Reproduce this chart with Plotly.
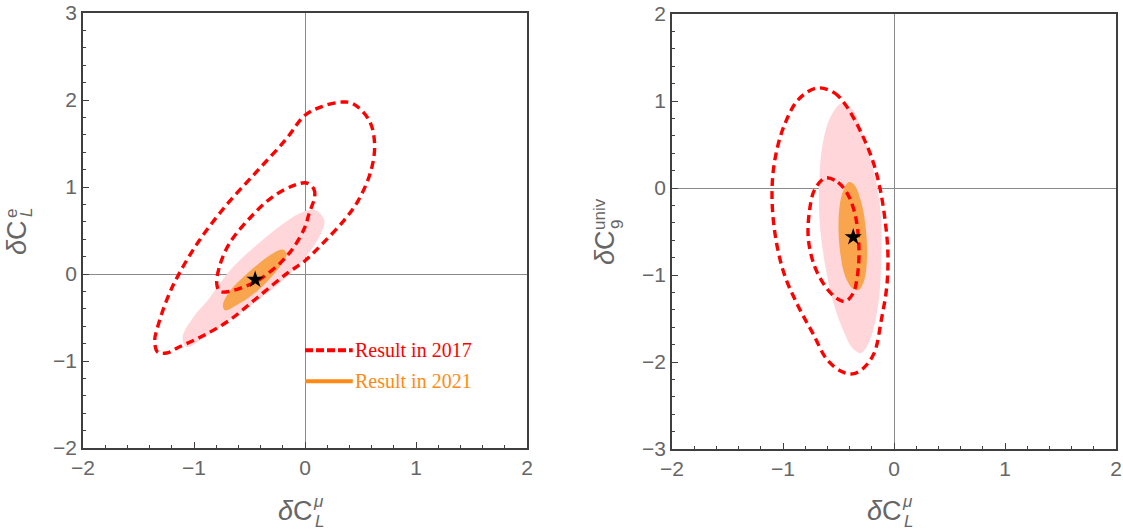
import plotly.graph_objects as go

# ---------------- Data ----------------
# Left panel: (dC_L^mu, dC_L^e)
L_2017_2s_x = [0.336, 0.433, 0.578, 0.627, 0.595, 0.481, 0.352, 0.158, 0.0, -0.165, -0.423, -0.682, -0.94, -1.134, -1.247, -1.328, -1.354, -1.33, -1.24, -1.14, -0.96, -0.71, -0.44, -0.17, 0.0, 0.158]
L_2017_2s_y = [1.977, 1.958, 1.766, 1.498, 1.19, 0.847, 0.617, 0.349, 0.153, 0.004, -0.264, -0.533, -0.724, -0.839, -0.908, -0.897, -0.762, -0.62, -0.28, -0.01, 0.37, 0.79, 1.17, 1.55, 1.824, 1.927]
L_2017_1s_x = [0.013, 0.078, 0.087, 0.036, 0.0, -0.1, -0.229, -0.423, -0.553, -0.714, -0.772, -0.795, -0.772, -0.682, -0.488, -0.294, -0.1]
L_2017_1s_y = [1.046, 0.981, 0.885, 0.693, 0.54, 0.31, 0.119, -0.073, -0.149, -0.207, -0.195, -0.111, 0.08, 0.349, 0.655, 0.885, 1.019]
L_2021_2s_x = [0.094, 0.174, 0.142, 0.029, -0.165, -0.423, -0.682, -0.94, -1.07, -1.102, -1.005, -0.876, -0.811, -0.649, -0.423, -0.197, -0.019]
L_2021_2s_y = [0.732, 0.617, 0.464, 0.234, -0.034, -0.303, -0.533, -0.762, -0.839, -0.724, -0.494, -0.303, -0.188, 0.08, 0.349, 0.579, 0.713]
L_2021_1s_x = [-0.197, -0.165, -0.229, -0.423, -0.617, -0.72, -0.74, -0.682, -0.488, -0.294]
L_2021_1s_y = [0.28, 0.234, 0.08, -0.188, -0.36, -0.418, -0.36, -0.207, 0.042, 0.234]
L_best = (-0.449, -0.065)

# Right panel: (dC_L^mu, dC_9^univ)
R_2017_2s_x = [-0.693, -0.537, -0.439, -0.309, -0.195, -0.13, -0.081, -0.055, -0.065, -0.114, -0.179, -0.276, -0.374, -0.472, -0.602, -0.732, -0.862, -0.992, -1.073, -1.099, -1.073, -0.992, -0.862]
R_2017_2s_y = [1.150, 1.093, 0.959, 0.671, 0.326, 0.019, -0.364, -0.748, -1.131, -1.515, -1.898, -2.071, -2.136, -2.109, -1.975, -1.668, -1.361, -0.978, -0.518, -0.058, 0.326, 0.709, 1.016]
R_2017_1s_x = [-0.618, -0.504, -0.407, -0.341, -0.315, -0.335, -0.367, -0.439, -0.52, -0.618, -0.715, -0.771, -0.764, -0.715]
R_2017_1s_y = [0.115, 0.065, -0.096, -0.364, -0.748, -1.054, -1.208, -1.304, -1.265, -1.131, -0.901, -0.594, -0.288, -0.019]
R_2021_2s_x = [-0.472, -0.374, -0.276, -0.179, -0.12, -0.114, -0.13, -0.179, -0.244, -0.302, -0.374, -0.472, -0.553, -0.618, -0.667, -0.673, -0.641, -0.569]
R_2021_2s_y = [0.970, 0.901, 0.594, 0.173, -0.288, -0.748, -1.208, -1.591, -1.821, -1.898, -1.840, -1.591, -1.285, -0.901, -0.441, 0.096, 0.518, 0.824]
R_2021_1s_x = [-0.407, -0.358, -0.293, -0.25, -0.244, -0.267, -0.315, -0.367, -0.439, -0.488, -0.498, -0.465]
R_2021_1s_y = [0.069, 0.038, -0.173, -0.518, -0.824, -1.054, -1.169, -1.162, -1.016, -0.709, -0.326, -0.058]
R_best = (-0.367, -0.564)

legend_labels = ["Result in 2017", "Result in 2021"]
legend_y = [-0.877, -1.234]
legend_x = [0.0, 0.43]

# ---------------- Styles ----------------
RED = "#FF0000"
PINK = "#FFD7DA"
ORANGE_FILL = "#F9A54E"
ORANGE = "#FF8A14"
GRAY = "#666666"
FRAME = "#3f3f3f"
W, H = 1123, 531


def closed(xs, ys):
    return list(xs) + [xs[0]], list(ys) + [ys[0]]


fig = go.Figure()


def add_panel(xa, ya, s2x, s2y, s1x, s1y, n2x, n2y, n1x, n1y, best):
    x, y = closed(n2x, n2y)
    fig.add_trace(go.Scatter(x=x, y=y, mode="lines", fill="toself", fillcolor=PINK,
                             line=dict(color=PINK, width=0, shape="spline", smoothing=1.0),
                             xaxis=xa, yaxis=ya, hoverinfo="skip", showlegend=False))
    x, y = closed(n1x, n1y)
    fig.add_trace(go.Scatter(x=x, y=y, mode="lines", fill="toself", fillcolor=ORANGE_FILL,
                             line=dict(color=ORANGE_FILL, width=0, shape="spline", smoothing=1.0),
                             xaxis=xa, yaxis=ya, hoverinfo="skip", showlegend=False))
    for xs, ys in [(s2x, s2y), (s1x, s1y)]:
        x, y = closed(xs, ys)
        fig.add_trace(go.Scatter(x=x, y=y, mode="lines",
                                 line=dict(color=RED, width=3.4, dash="8px,5px", shape="spline", smoothing=1.0),
                                 xaxis=xa, yaxis=ya, hoverinfo="skip", showlegend=False))
    fig.add_trace(go.Scatter(x=[best[0]], y=[best[1]], mode="markers",
                             marker=dict(symbol="star", size=13, color="black"),
                             xaxis=xa, yaxis=ya, showlegend=False))


add_panel("x", "y", L_2017_2s_x, L_2017_2s_y, L_2017_1s_x, L_2017_1s_y,
          L_2021_2s_x, L_2021_2s_y, L_2021_1s_x, L_2021_1s_y, L_best)
add_panel("x2", "y2", R_2017_2s_x, R_2017_2s_y, R_2017_1s_x, R_2017_1s_y,
          R_2021_2s_x, R_2021_2s_y, R_2021_1s_x, R_2021_1s_y, R_best)

# legend inside left panel
fig.add_trace(go.Scatter(x=legend_x, y=[legend_y[0]] * 2, mode="lines",
                         line=dict(color=RED, width=4, dash="8px,3px"),
                         xaxis="x", yaxis="y", showlegend=False, hoverinfo="skip"))
fig.add_trace(go.Scatter(x=legend_x, y=[legend_y[1]] * 2, mode="lines",
                         line=dict(color=ORANGE, width=4),
                         xaxis="x", yaxis="y", showlegend=False, hoverinfo="skip"))

annotations = []
for lab, yy, col in zip(legend_labels, legend_y, [RED, ORANGE]):
    annotations.append(dict(x=legend_x[1], y=yy, xref="x", yref="y", text=lab, showarrow=False,
                            xanchor="left", yanchor="middle",
                            font=dict(family="Liberation Serif", size=20, color=col)))


def px(xp, yp):
    return xp / W, 1 - yp / H


def ann(text, xp, yp, size, angle=0, italic=False):
    xx, yy = px(xp, yp)
    t = f"<i>{text}</i>" if italic else text
    annotations.append(dict(x=xx, y=yy, xref="paper", yref="paper", text=t, showarrow=False,
                            xanchor="center", yanchor="middle", textangle=angle,
                            font=dict(family="Liberation Sans", size=size, color=GRAY)))


# x titles
for cx in (295, 884):
    ann("<i>δ</i>C", cx, 511, 27)
    ann("μ", cx + 23, 501, 17, italic=True)
    ann("L", cx + 24, 521, 17, italic=True)

# left y title
ann("<i>δ</i>C", 17, 238, 27, angle=-90)
ann("L", 27, 213, 17, angle=-90, italic=True)
ann("e", 11, 214, 17, angle=-90)

# right y title
ann("<i>δ</i>C", 605, 248, 27, angle=-90)
ann("9", 617, 225, 17, angle=-90)
ann("univ", 599, 214, 17, angle=-90)

axis_common = dict(showgrid=False, zeroline=True, zerolinecolor="#8a8a8a", zerolinewidth=1,
                   showline=True, linecolor=FRAME, linewidth=1.5, mirror=True,
                   ticks="inside", ticklen=6, tickwidth=1, tickcolor=FRAME,
                   tickfont=dict(family="Liberation Sans", size=21, color=GRAY),
                   minor=dict(ticks="inside", ticklen=3.5, dtick=0.2, tickcolor=FRAME, tickwidth=1),
                   dtick=1, layer="above traces", fixedrange=True, automargin=False)

fig.update_layout(
    width=W, height=H, autosize=False,
    margin=dict(l=0, r=0, t=0, b=0, autoexpand=False),
    paper_bgcolor="white", plot_bgcolor="white",
    xaxis=dict(domain=[83 / W, 527 / W], range=[-2, 2], anchor="y", **axis_common),
    yaxis=dict(domain=[1 - 448 / H, 1 - 13 / H], range=[-2, 3], anchor="x", **axis_common),
    xaxis2=dict(domain=[672 / W, 1116 / W], range=[-2, 2], anchor="y2", **axis_common),
    yaxis2=dict(domain=[1 - 449 / H, 1 - 14 / H], range=[-3, 2], anchor="x2", **axis_common),
    annotations=annotations,
    showlegend=False,
)

fig.write_html("out.html")
